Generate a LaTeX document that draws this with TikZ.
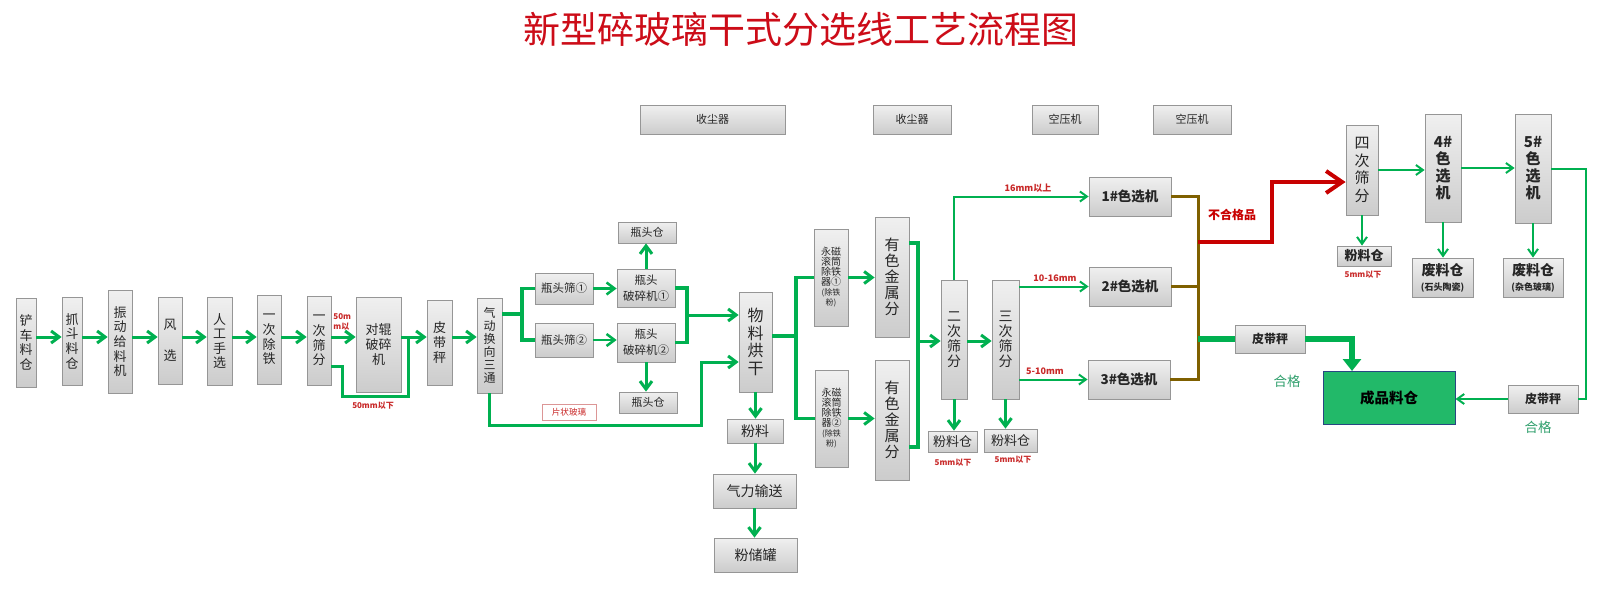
\documentclass[tikz,border=0pt]{standalone}
\usepackage{fontspec}
\setmainfont{Noto Sans CJK SC}
\usetikzlibrary{arrows.meta}
\definecolor{gn}{RGB}{0,176,80}
\definecolor{brn}{RGB}{127,96,0}
\definecolor{rd}{RGB}{200,0,0}
\definecolor{ttl}{RGB}{204,12,24}
\definecolor{lblred}{RGB}{200,40,40}
\definecolor{okc}{RGB}{50,160,110}
\definecolor{cpg}{RGB}{34,185,105}
\definecolor{cpb}{RGB}{40,70,130}
\definecolor{bord}{RGB}{150,150,150}
\definecolor{pinkb}{RGB}{220,150,150}
\newcommand\fz[2]{\fontsize{#1pt}{#2pt}\selectfont}
\newcommand\mybox[7][]{\node[box,minimum width={(#5-#3)*0.5pt},minimum height={(#6-#4)*0.5pt},#1] (#2) at ({(#3+#5)/2},{(#4+#6)/2}) {#7};}
\tikzset{
 box/.style={draw=bord, line width=0.4pt, top color=gray!12, bottom color=gray!40, inner sep=0pt, align=center, text=black!85, font=\fz{6.5}{7.3}},
 gl/.style={draw=gn, line width=1.5pt},
 gbr/.style={draw=gn, line width=1.75pt},
 ga/.style={gl, -{Straight Barb[length=4pt,width=6pt]}},
 gt/.style={draw=gn, line width=1pt},
 gta/.style={gt, -{Straight Barb[length=3.5pt,width=5pt]}},
 brl/.style={draw=brn, line width=1.5pt},
 rda/.style={draw=rd, line width=2pt, -{Straight Barb[length=8pt,width=11pt]}},
 gbig/.style={draw=gn, line width=3pt, -{Triangle[length=6pt,width=9pt]}},
 lbl/.style={text=lblred, font=\bfseries\fz{4}{4.5}, inner sep=0pt},
 okl/.style={text=okc, font=\fz{6.75}{7}, inner sep=0pt},
}
\begin{document}
\begin{tikzpicture}[x=0.5pt,y=-0.5pt]
\useasboundingbox (0,0) rectangle (1600,596);
\node[text=ttl, font=\fz{18.5}{20}] (title) at (801,29) {新型碎玻璃干式分选线工艺流程图};
% top equipment
\mybox[font=\fz{5.5}{6}]{sc1}{640}{105}{785}{134}{收尘器}
\mybox[font=\fz{5.5}{6}]{sc2}{873}{105}{951}{134}{收尘器}
\mybox[font=\fz{5.5}{6}]{kj1}{1032}{105}{1098}{134}{空压机}
\mybox[font=\fz{5.5}{6}]{kj2}{1153}{105}{1231}{134}{空压机}
% row 1
\coordinate (r1) at (0,337);
\mybox{n1}{16}{298}{36}{387}{铲\\车\\料\\仓}
\mybox{n2}{62}{297}{82}{385}{抓\\斗\\料\\仓}
\mybox{n3}{108}{290}{132}{393}{振\\动\\给\\料\\机}
\mybox{n4}{158}{297}{182}{384}{风\\[8pt]选}
\mybox{n5}{207}{297}{232}{385}{人\\工\\手\\选}
\mybox{n6}{257}{295}{281}{384}{一\\次\\除\\铁}
\mybox{n7}{307}{296}{331}{385}{一\\次\\筛\\分}
\mybox{n8}{356}{297}{401}{392}{对辊\\破碎\\机}
\mybox{n9}{427}{300}{452}{385}{皮\\带\\秤}
\mybox[font=\fz{6}{6.5}]{n10}{477}{298}{502}{393}{气\\动\\换\\向\\三\\通}
\foreach \a/\b in {n1/n2,n2/n3,n3/n4,n4/n5,n5/n6,n6/n7,n7/n8,n8/n9,n9/n10}
  \draw[ga] (\a.east |- r1) -- (\b.west |- r1);
\coordinate (j1) at (408,337);
\coordinate (j0) at (342,396);
\draw[gl] (n7.east |- 0,366) -| (j0) -| (j1);
\node[lbl, anchor=west, align=left, font=\bfseries\fz{4}{5}] (l50a) at (333,322) {50m\\m以};
\node[lbl] (l50b) at (373,406) {50mm以下};
% bottle head section
\mybox[font=\fz{5.75}{6.5}]{sb1}{535}{273}{593}{304}{瓶头筛①}
\mybox[font=\fz{5.75}{6.5}]{sb2}{535}{323}{593}{357}{瓶头筛②}
\mybox[font=\fz{5.75}{8}]{pc1}{617}{269}{675}{307}{瓶头\\破碎机①}
\mybox[font=\fz{5.75}{8}]{pc2}{617}{323}{675}{362}{瓶头\\破碎机②}
\mybox[font=\fz{5.5}{6}]{bc1}{618}{222}{676}{243}{瓶头仓}
\mybox[font=\fz{5.5}{6}]{bc2}{619}{392}{677}{413}{瓶头仓}
\coordinate (b1) at (522,314);
\draw[gbr] (n10.east |- b1) -- (b1);
\draw[gbr] (sb1.west) -| (b1) |- (sb2.west);
\draw[ga, line width=1.25pt] (sb1.east) -- (sb1.east -| pc1.west);
\draw[ga, line width=1.25pt] (sb2.east) -- (sb2.east -| pc2.west);
\draw[ga] (pc1.north) -- (pc1.north |- bc1.south);
\draw[ga] (pc2.south) -- (pc2.south |- bc2.north);
\mybox[font=\fz{8}{8.9}]{wl}{739}{292}{772}{392}{物\\料\\烘\\干}
\coordinate (b2) at (687,315);
\draw[gbr] (pc1.east) -| (b2) |- (pc2.east);
\draw[ga] (b2) -- (b2 -| wl.west);
\coordinate (b3) at (701,425);
\draw[ga] (n10.south) |- (b3) |- (wl.west |- 0,362);
\node[draw=pinkb, line width=0.4pt, text=lblred, font=\fz{4.3}{5}, minimum width=27pt, minimum height=8pt, inner sep=0pt] (pz) at (569,412) {片状玻璃};
% powder
\mybox[font=\fz{7}{8}]{fl}{727}{419}{783}{443}{粉料}
\mybox[font=\fz{7}{8}]{ql}{713}{474}{796}{508}{气力输送}
\mybox[font=\fz{7}{8}]{fc}{714}{538}{797}{572}{粉储罐}
\draw[ga] (wl.south) -- (wl.south |- fl.north);
\draw[ga] (fl.south) -- (fl.south |- ql.north);
\draw[ga] (ql.south) -- (ql.south |- fc.north);
% magnetic
\mybox[font=\fz{5}{5}]{ym1}{814}{229}{848}{326}{永磁\\滚筒\\除铁\\器①\\{\fz{4}{5}(除铁}\\{\fz{4}{5}粉)}}
\mybox[font=\fz{5}{5}]{ym2}{815}{370}{848}{467}{永磁\\滚筒\\除铁\\器②\\{\fz{4}{5}(除铁}\\{\fz{4}{5}粉)}}
\coordinate (b4) at (796,336);
\draw[gbr] (wl.east |- b4) -- (b4);
\draw[gbr] (ym1.west) -| (b4) |- (ym2.west);
\mybox[font=\fz{7.5}{8}]{ys1}{875}{217}{909}{337}{有\\色\\金\\属\\分}
\mybox[font=\fz{7.5}{8}]{ys2}{875}{360}{909}{480}{有\\色\\金\\属\\分}
\draw[ga] (ym1.east) -- (ym1.east -| ys1.west);
\draw[ga] (ym2.east) -- (ym2.east -| ys2.west);
\mybox[font=\fz{7}{7.5}]{es}{941}{280}{967}{399}{二\\次\\筛\\分}
\mybox[font=\fz{7}{7.5}]{ss}{992}{280}{1019}{399}{三\\次\\筛\\分}
\coordinate (b5) at (918,341);
\draw[gbr] (ys1.east |- 0,243) -| (b5) |- (ys2.east |- 0,447);
\draw[ga] (b5) -- (b5 -| es.west);
\draw[ga] (es.east |- b5) -- (ss.west |- b5);
\mybox[font=\fz{6.5}{7}]{fc2}{928}{431}{977}{452}{粉料仓}
\mybox[font=\fz{6.5}{7}]{fc3}{984}{429}{1037}{452}{粉料仓}
\draw[ga] (es.south) -- (es.south |- fc2.north);
\draw[ga] (ss.south) -- (ss.south |- fc3.north);
\node[lbl] (l5a) at (953,463) {5mm以下};
\node[lbl] (l5b) at (1013,460) {5mm以下};
% colour sorters
\mybox[font=\bfseries\fz{6.75}{7}]{c1}{1089}{177}{1171}{216}{1\#色选机}
\mybox[font=\bfseries\fz{6.75}{7}]{c2}{1089}{267}{1171}{306}{2\#色选机}
\mybox[font=\bfseries\fz{6.75}{7}]{c3}{1088}{360}{1170}{399}{3\#色选机}
\draw[gta] (es.north) |- (c1.west);
\draw[gta] (ss.east |- c2) -- (c2.west);
\draw[gta] (ss.east |- c3) -- (c3.west);
\node[lbl, font=\bfseries\fz{4.5}{5}] (l16) at (1028,188) {16mm以上};
\node[lbl, font=\bfseries\fz{4.5}{5}] (l1016) at (1055,278) {10-16mm};
\node[lbl, font=\bfseries\fz{4.5}{5}] (l510) at (1045,371) {5-10mm};
\coordinate (bb) at (1198,0);
\draw[brl] (c1.east) -| (bb |- c3.east) -- (c3.east);
\draw[brl] (c2.east) -- (c2.east -| bb);
% rejects
\mybox[font=\fz{7.5}{8.8}]{sf}{1346}{125}{1378}{215}{四\\次\\筛\\分}
\coordinate (rk) at (1272,182);
\draw[rda] (bb |- 0,242) -| (rk) -- (rk -| sf.west);
\node[text=rd, font=\bfseries\fz{6}{6.5}] (ng) at (1232,215) {不合格品};
\mybox[font=\bfseries\fz{7.5}{8.5}]{c4}{1425}{114}{1461}{222}{4\#\\色\\选\\机}
\mybox[font=\bfseries\fz{7.5}{8.5}]{c5}{1515}{114}{1551}{223}{5\#\\色\\选\\机}
\draw[gta] (sf.east) -- (sf.east -| c4.west);
\draw[gta] (c4.east) -- (c4.east -| c5.west);
\mybox[font=\bfseries\fz{6.5}{7}]{fl4}{1337}{246}{1391}{266}{粉料仓}
\mybox[font=\bfseries\fz{7}{7.5}]{fk1}{1412}{258}{1473}{297}{废料仓\\{\fz{4.5}{6}(石头陶瓷)}}
\mybox[font=\bfseries\fz{7}{7.5}]{fk2}{1503}{258}{1563}{297}{废料仓\\{\fz{4.5}{6}(杂色玻璃)}}
\draw[gta] (sf.south) -- (sf.south |- fl4.north);
\draw[gta] (c4.south) -- (c4.south |- fk1.north);
\draw[gta] (c5.south) -- (c5.south |- fk2.north);
\node[lbl] (l5c) at (1363,275) {5mm以下};
% accepted
\mybox[font=\bfseries\fz{6}{6.5}]{pd1}{1235}{325}{1305}{353}{皮带秤}
\node[draw=cpb, fill=cpg, line width=0.5pt, minimum width=66pt, minimum height=26.5pt, font=\bfseries\fz{7.25}{8}, inner sep=0pt] (cp) at (1389,397.5) {成品料仓};
\draw[draw=gn, line width=3pt] (bb |- pd1.west) -- (pd1.west);
\coordinate (ck) at (1352,371);
\draw[gbig] (pd1.east) -| (ck);
\mybox[font=\bfseries\fz{6}{6.5}]{pd2}{1508}{385}{1578}{413}{皮带秤}
\coordinate (rr) at (1586,0);
\draw[gt] (c5.east) -| (rr |- pd2.east) -- (pd2.east);
\draw[gta] (pd2.west) -- (pd2.west -| cp.east);
\node[okl] (ok1) at (1287,381) {合格};
\node[okl] (ok2) at (1538,427) {合格};
\end{tikzpicture}
\end{document}
